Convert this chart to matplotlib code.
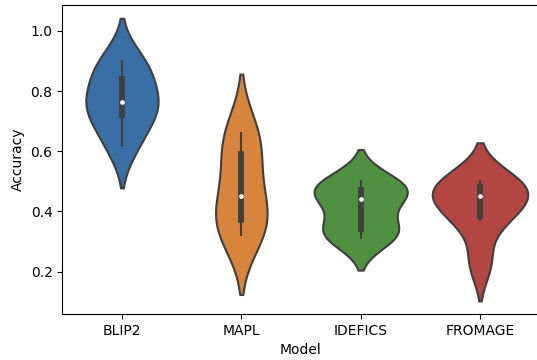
import numpy as np
import pandas as pd
import matplotlib
matplotlib.use("Agg")
import matplotlib.pyplot as plt
import seaborn as sns

models = ["BLIP2", "MAPL", "IDEFICS", "FROMAGE"]
blip2 = [0.62, 0.71, 0.75, 0.78, 0.86, 0.90]
mapl = [0.32, 0.36, 0.40, 0.50, 0.62, 0.66]
idefics = [0.31, 0.33, 0.35, 0.44, 0.46, 0.48, 0.50]
fromage = [0.23, 0.37, 0.40, 0.45, 0.47, 0.49, 0.50]

scores = [blip2, mapl, idefics, fromage]
df = pd.DataFrame({
    "Model": [m for m, s in zip(models, scores) for _ in s],
    "Accuracy": [v for s in scores for v in s],
})

colors = ["#3a6fa5", "#d6853b", "#4f9141", "#b34642"]

fig = plt.figure(figsize=(5.37, 3.6), dpi=100)
ax = fig.add_axes([0.116, 0.128, 0.889, 0.858])
sns.violinplot(x="Model", y="Accuracy", data=df, order=models, color=colors[0],
               saturation=1, linewidth=1.5, linecolor="#3f3f3f",
               inner_kws=dict(box_width=4.2, whis_width=1.5, marker="o",
                              markersize=2.5, color="#3f3f3f"),
               ax=ax)
for coll, c in zip(ax.collections, colors):
    coll.set_facecolor(c)
ax.set_xlim(-0.5, 3.5)
ax.set_ylim(0.059, 1.086)
fig.savefig("out.png", dpi=100)
